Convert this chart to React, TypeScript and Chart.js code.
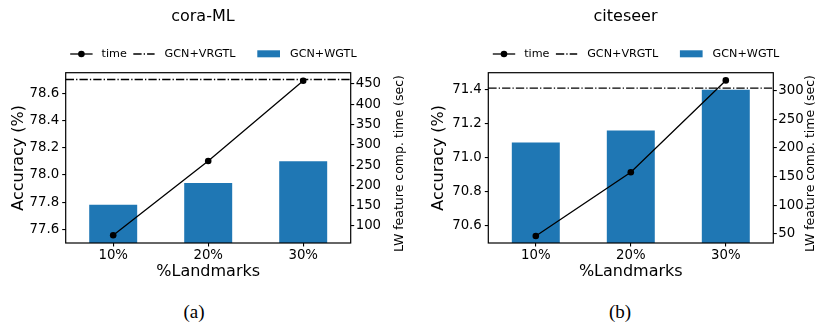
import React, { useEffect, useRef } from "react";
import { Chart, registerables } from "chart.js";

Chart.register(...registerables);

// ---------- data ----------
const categories = ["10%", "20%", "30%"];

const coraTitle = "cora-ML";
const coraWgtl = [77.78, 77.94, 78.1];
const coraTime = [77, 260, 458];
const coraVrgtl = 78.7;
const coraAccTicks = [77.6, 77.8, 78.0, 78.2, 78.4, 78.6];
const coraTimeTicks = [100, 150, 200, 250, 300, 350, 400, 450];
const coraAccRange = [77.5, 78.75];
const coraTimeRange = [58, 477.8];

const citeTitle = "citeseer";
const citeWgtl = [71.09, 71.16, 71.4];
const citeTime = [46, 157.5, 318];
const citeVrgtl = 71.41;
const citeAccTicks = [70.6, 70.8, 71.0, 71.2, 71.4];
const citeTimeTicks = [50, 100, 150, 200, 250, 300];
const citeAccRange = [70.5, 71.5];
const citeTimeRange = [33.7, 331.5];

const legendLabels = ["time", "GCN+VRGTL", "GCN+WGTL"];
const xTitle = "%Landmarks";
const yTitle = "Accuracy (%)";
const y1Title = "LW feature comp. time (sec)";

const FONT = "'DejaVu Sans', sans-serif";
const BAR_COLOR = "#1f77b4";
const LW = 1.3;
const DASHDOT = [6.4, 1.6, 1, 1.6].map((v) => v * LW);

const decorPlugin = {
  id: "decor",
  afterDatasetsDraw(chart: any, _args: any, opts: any) {
    const { ctx, chartArea: a, scales } = chart;
    const y = scales.y.getPixelForValue(opts.vrgtl);
    ctx.save();
    ctx.strokeStyle = "#000";
    ctx.lineWidth = LW;
    ctx.setLineDash(DASHDOT);
    ctx.beginPath();
    ctx.moveTo(a.left, y);
    ctx.lineTo(a.right, y);
    ctx.stroke();
    ctx.restore();
  },
  afterDraw(chart: any, _args: any, opts: any) {
    const { ctx, chartArea: a } = chart;
    ctx.save();
    // frame
    ctx.strokeStyle = "#000";
    ctx.lineWidth = 1.2;
    ctx.strokeRect(a.left, a.top, a.right - a.left, a.bottom - a.top);
    // title
    ctx.fillStyle = "#000";
    ctx.font = `16px ${FONT}`;
    ctx.textAlign = "center";
    ctx.textBaseline = "middle";
    ctx.fillText(opts.title, (a.left + a.right) / 2 - 5.3, 16.5);
    // right axis title (reads bottom to top)
    ctx.save();
    ctx.font = `12.5px ${FONT}`;
    ctx.translate(opts.y1TitleX, 163.5);
    ctx.rotate(-Math.PI / 2);
    ctx.fillText(y1Title, 0, 0);
    ctx.restore();
    // legend
    const ly = 54;
    ctx.font = `11.2px ${FONT}`;
    ctx.textAlign = "left";
    ctx.lineWidth = LW;
    const x1 = a.left + 4.5;
    ctx.beginPath();
    ctx.moveTo(x1, ly);
    ctx.lineTo(x1 + 22.4, ly);
    ctx.stroke();
    ctx.beginPath();
    ctx.arc(x1 + 11.2, ly, 3.3, 0, Math.PI * 2);
    ctx.fill();
    ctx.fillText(legendLabels[0], x1 + 31.4, ly);
    const x2 = a.left + 67.6;
    ctx.setLineDash(DASHDOT);
    ctx.beginPath();
    ctx.moveTo(x2, ly);
    ctx.lineTo(x2 + 21.3, ly);
    ctx.stroke();
    ctx.setLineDash([]);
    ctx.fillText(legendLabels[1], x2 + 31.3, ly);
    const x3 = a.left + 191.6;
    ctx.fillStyle = BAR_COLOR;
    ctx.fillRect(x3, ly - 3.7, 22.7, 7);
    ctx.fillStyle = "#000";
    ctx.fillText(legendLabels[2], x3 + 32.7, ly);
    ctx.restore();
  },
};

type PanelProps = {
  title: string;
  wgtl: number[];
  time: number[];
  vrgtl: number;
  accTicks: number[];
  timeTicks: number[];
  accRange: number[];
  timeRange: number[];
  width: number;
  left: number;
  yWidth: number;
  y1Width: number;
  yTitlePad: number;
  y1TitleX: number;
};

function Panel(p: PanelProps) {
  const ref = useRef<HTMLCanvasElement | null>(null);
  useEffect(() => {
    if (!ref.current) return;
    const tickFont = { family: FONT, size: 13.3 };
    const chart = new Chart(ref.current, {
      type: "bar",
      data: {
        labels: categories,
        datasets: [
          {
            type: "line",
            label: legendLabels[0],
            data: p.time,
            yAxisID: "y1",
            borderColor: "#000",
            backgroundColor: "#000",
            borderWidth: LW,
            pointRadius: 3.3,
            pointBackgroundColor: "#000",
            pointBorderWidth: 0,
            tension: 0,
            order: 0,
          } as any,
          {
            type: "bar",
            label: legendLabels[2],
            data: p.wgtl,
            yAxisID: "y",
            backgroundColor: BAR_COLOR,
            borderWidth: 0,
            barPercentage: 0.505,
            categoryPercentage: 1,
            order: 1,
          } as any,
        ],
      },
      options: {
        responsive: false,
        maintainAspectRatio: false,
        animation: false,
        layout: { padding: { top: 72.7, left: 0, right: 0, bottom: 0 } },
        plugins: {
          legend: { display: false },
          tooltip: { enabled: false },
          title: { display: false },
          decor: { title: p.title, vrgtl: p.vrgtl, y1TitleX: p.y1TitleX },
        } as any,
        scales: {
          x: {
            type: "category",
            offset: true,
            grid: { display: true, drawOnChartArea: false, drawTicks: true, tickLength: 3.5, color: "#000", lineWidth: 1.1, offset: false },
            border: { display: false },
            ticks: { color: "#000", font: tickFont, padding: 1, maxRotation: 0 },
            title: {
              display: true,
              text: xTitle,
              color: "#000",
              font: { family: FONT, size: 16, lineHeight: "16px" },
              padding: { top: 0, bottom: 10.3 },
            },
            afterFit: (s: any) => {
              s.height = 47;
            },
          },
          y: {
            type: "linear",
            position: "left",
            min: p.accRange[0],
            max: p.accRange[1],
            afterBuildTicks: (s: any) => {
              s.ticks = p.accTicks.map((v) => ({ value: v }));
            },
            grid: { display: true, drawOnChartArea: false, drawTicks: true, tickLength: 3.5, color: "#000", lineWidth: 1.1 },
            border: { display: false },
            ticks: { color: "#000", font: tickFont, padding: 3, callback: (v: any) => Number(v).toFixed(1) },
            title: {
              display: true,
              text: yTitle,
              color: "#000",
              font: { family: FONT, size: 16, lineHeight: "16px" },
              padding: { top: p.yTitlePad, bottom: 0 },
            },
            afterFit: (s: any) => {
              s.width = p.yWidth;
            },
          },
          y1: {
            type: "linear",
            position: "right",
            min: p.timeRange[0],
            max: p.timeRange[1],
            afterBuildTicks: (s: any) => {
              s.ticks = p.timeTicks.map((v) => ({ value: v }));
            },
            grid: { display: true, drawOnChartArea: false, drawTicks: true, tickLength: 3.5, color: "#000", lineWidth: 1.1 },
            border: { display: false },
            ticks: { color: "#000", font: tickFont, padding: 1.5, callback: (v: any) => String(v) },
            title: { display: false },
            afterFit: (s: any) => {
              s.width = p.y1Width;
            },
          },
        } as any,
      },
      plugins: [decorPlugin as any],
    });
    return () => chart.destroy();
  }, []);
  return (
    <canvas
      ref={ref}
      width={p.width}
      height={290}
      style={{ position: "absolute", left: p.left, top: 0, width: p.width, height: 290 }}
    />
  );
}

const captionStyle: React.CSSProperties = {
  position: "absolute",
  top: 301,
  width: 100,
  height: 22,
  lineHeight: "22px",
  textAlign: "center",
  fontFamily: "'Liberation Serif', 'Times New Roman', serif",
  fontSize: 19,
  color: "#000",
};

export default function App() {
  return (
    <div style={{ position: "absolute", left: 0, top: 0, width: 815, height: 325, background: "#fff", overflow: "hidden" }}>
      <Panel
        title={coraTitle}
        wgtl={coraWgtl}
        time={coraTime}
        vrgtl={coraVrgtl}
        accTicks={coraAccTicks}
        timeTicks={coraTimeTicks}
        accRange={coraAccRange}
        timeRange={coraTimeRange}
        width={407}
        left={0}
        yWidth={65.7}
        y1Width={56.3}
        yTitlePad={11}
        y1TitleX={399.5}
      />
      <Panel
        title={citeTitle}
        wgtl={citeWgtl}
        time={citeTime}
        vrgtl={citeVrgtl}
        accTicks={citeAccTicks}
        timeTicks={citeTimeTicks}
        accRange={citeAccRange}
        timeRange={citeTimeRange}
        width={408}
        left={407}
        yWidth={81.3}
        y1Width={41.7}
        yTitlePad={24}
        y1TitleX={403.5}
      />
      <div style={{ ...captionStyle, left: 194 - 50 }}>(a)</div>
      <div style={{ ...captionStyle, left: 620 - 50 }}>(b)</div>
    </div>
  );
}
